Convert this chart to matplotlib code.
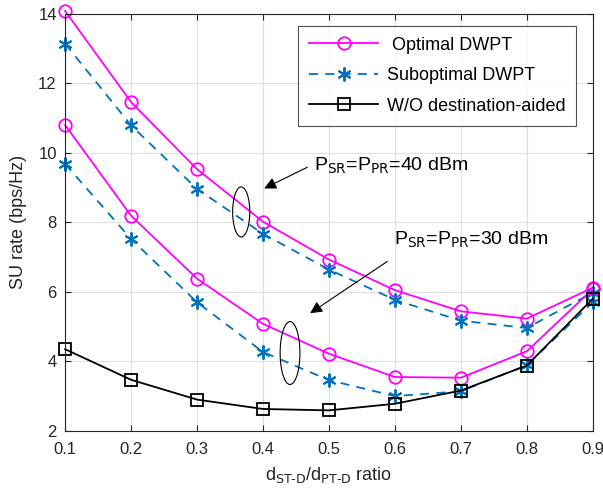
import numpy as np
import matplotlib.pyplot as plt
from matplotlib.patches import Ellipse

# distance ratio d_ST-D / d_PT-D
ratio = [0.1, 0.2, 0.3, 0.4, 0.5, 0.6, 0.7, 0.8, 0.9]

# P_SR = P_PR = 40 dBm
opt_40 = [14.08, 11.46, 9.53, 8.02, 6.93, 6.05, 5.44, 5.23, 6.12]
sub_40 = [13.14, 10.79, 8.96, 7.67, 6.64, 5.77, 5.17, 4.96, 5.98]

# P_SR = P_PR = 30 dBm
opt_30 = [10.80, 8.19, 6.38, 5.08, 4.22, 3.55, 3.53, 4.29, 6.08]
sub_30 = [9.68, 7.52, 5.70, 4.27, 3.46, 3.00, 3.14, 3.89, 5.70]

# without destination-aided
wo_dest = [4.35, 3.47, 2.90, 2.63, 2.59, 2.78, 3.16, 3.88, 5.80]

magenta = "#FF00FF"
blue = "#0072BD"
asterisk = (6, 2, 0)

plt.rcParams["font.family"] = "Liberation Sans"
plt.rcParams["font.size"] = 11

fig = plt.figure(figsize=(6.03, 4.93), dpi=100)
ax = fig.add_axes([0.108, 0.126, 0.875, 0.846])

ax.plot(ratio, opt_40, color=magenta, lw=1.3, marker="o", ms=9, mfc="none", mew=1.3,
        label=" Optimal DWPT", clip_on=False)
ax.plot(ratio, sub_40, color=blue, lw=1.3, ls=(0, (5, 4)), marker=asterisk, ms=10, mew=1.4,
        label="Suboptimal DWPT", clip_on=False)
ax.plot(ratio, opt_30, color=magenta, lw=1.3, marker="o", ms=9, mfc="none", mew=1.3,
        clip_on=False)
ax.plot(ratio, sub_30, color=blue, lw=1.3, ls=(0, (5, 4)), marker=asterisk, ms=10, mew=1.4,
        clip_on=False)
ax.plot(ratio, wo_dest, color="black", lw=1.3, marker="s", ms=8, mfc="none", mew=1.3,
        label="W/O destination-aided", clip_on=False)

# ellipses grouping the curves
ax.add_patch(Ellipse((0.367, 8.3), 0.026, 1.44, fill=False, ec="black", lw=0.8, zorder=5))
ax.add_patch(Ellipse((0.441, 4.24), 0.030, 1.81, fill=False, ec="black", lw=0.8, zorder=5))

ax.annotate("", xy=(0.398, 8.94), xytext=(0.471, 9.62),
            arrowprops=dict(arrowstyle="-|>", color="black", lw=0.8,
                            mutation_scale=18))
ax.annotate("", xy=(0.468, 5.34), xytext=(0.592, 6.92),
            arrowprops=dict(arrowstyle="-|>", color="black", lw=0.8,
                            mutation_scale=18))
ax.text(0.477, 9.62, r"P$_{\mathrm{SR}}$=P$_{\mathrm{PR}}$=40 dBm", fontsize=14,
        va="center", ha="left")
ax.text(0.598, 7.5, r"P$_{\mathrm{SR}}$=P$_{\mathrm{PR}}$=30 dBm", fontsize=14,
        va="center", ha="left")

ax.set_xlim(0.1, 0.9)
ax.set_ylim(2, 14)
ax.set_xticks(ratio)
ax.set_xticklabels([f"{r:.1f}" for r in ratio])
ax.set_yticks([2, 4, 6, 8, 10, 12, 14])
ax.tick_params(direction="in", top=True, right=True, colors="#262626",
               labelcolor="#262626", labelsize=12, length=4)
ax.tick_params(axis="x", pad=8)
ax.tick_params(axis="y", pad=6)
for s in ax.spines.values():
    s.set_color("#262626")
    s.set_linewidth(0.8)
ax.grid(True, color="#DFDFDF", lw=0.8)
ax.set_axisbelow(True)

ax.set_xlabel(r"d$_{\mathrm{ST\text{-}D}}$/d$_{\mathrm{PT\text{-}D}}$ ratio", fontsize=13,
              color="#262626", labelpad=6)
ax.set_ylabel("SU rate (bps/Hz)", fontsize=13, color="#262626", labelpad=8)

leg = ax.legend(loc="upper right", bbox_to_anchor=(0.986, 0.993), fontsize=13,
                frameon=True, fancybox=False, edgecolor="#262626",
                handlelength=3.8, borderpad=0.6, labelspacing=0.75, handletextpad=0.5)
leg.get_frame().set_linewidth(0.8)

fig.savefig("out.png", dpi=100)
